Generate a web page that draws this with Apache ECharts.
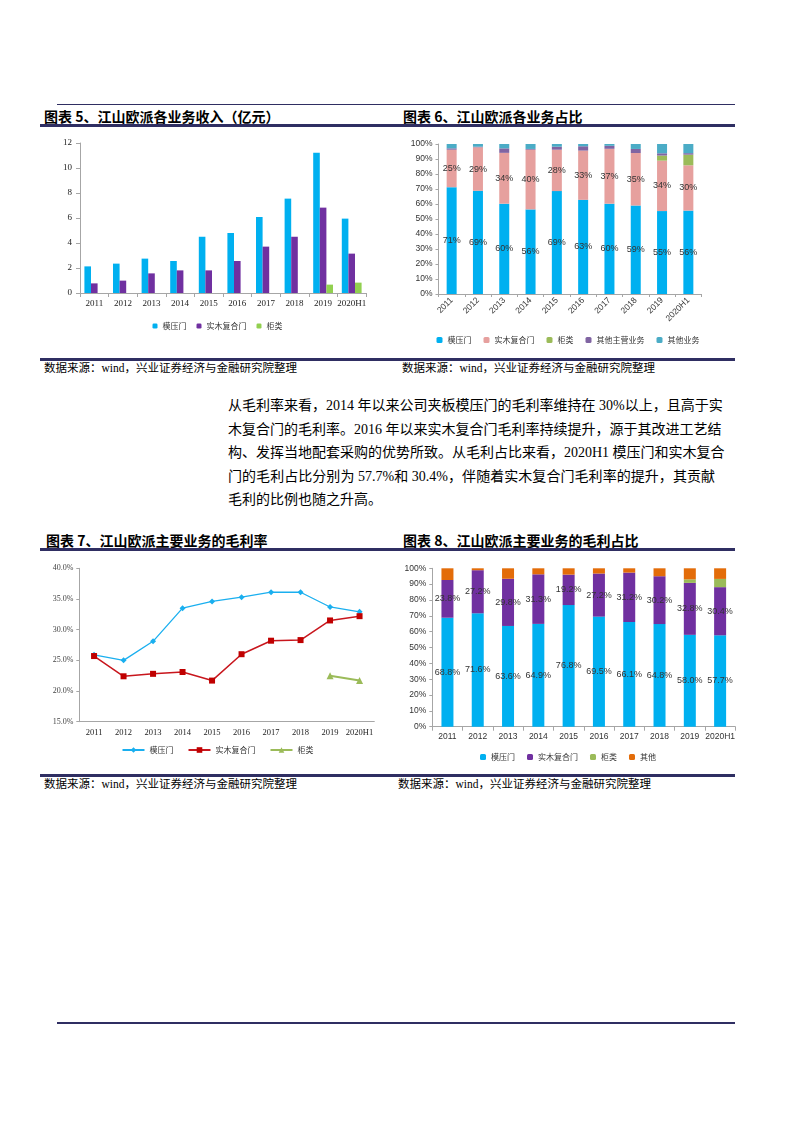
<!DOCTYPE html>
<html lang="zh-CN">
<head>
<meta charset="UTF-8"/>
<title>江山欧派业务分析</title>
<script src="https://cdn.jsdelivr.net/npm/echarts@6/dist/echarts.min.js"></script>
<style>
    body { margin: 0; width: 793px; height: 1122px; position: relative; background: #fff;
           font-family: "Noto Sans CJK SC", sans-serif; color: #000; }
    .abs { position: absolute; }
    .rule-thin { height: 1px; background: #2F2E62; }
    .rule-thick { height: 3px; background: #2F2E62; }
    .ttl { font-size: 14px; font-weight: bold; line-height: 16px; }
    .src { font-size: 11.5px; line-height: 13px; font-family: "Liberation Serif", "Noto Sans CJK SC", serif; }
    .para div { font-size: 14px; line-height: 23.5px; height: 23.5px; width: 487px;
                text-align: justify; text-align-last: justify; white-space: nowrap;
                font-family: "Liberation Serif", "Noto Sans CJK SC", serif; }
    .para div.last { text-align-last: left; }
    .chart { position: absolute; }
</style>
</head>
<body>

<!-- 页眉/页脚线 -->
<div class="abs rule-thin" style="left:57px;top:104px;width:678px;"></div>
<div class="abs rule-thick" style="left:57px;top:1022px;width:678px;height:2px;"></div>

<!-- 第一行图表标题 -->
<div class="abs ttl" style="left:44px;top:108px;">图表 5、江山欧派各业务收入（亿元）</div>
<div class="abs ttl" style="left:403px;top:108px;">图表 6、江山欧派各业务占比</div>
<div class="abs rule-thick" style="left:40px;top:124px;width:695px;"></div>

<div id="chart1" class="chart" style="left:40px;top:130px;width:355px;height:220px;"></div>
<div id="chart2" class="chart" style="left:398px;top:130px;width:340px;height:220px;"></div>

<div class="abs rule-thick" style="left:40px;top:358px;width:695px;"></div>
<div class="abs src" style="left:44px;top:362px;">数据来源：wind，兴业证券经济与金融研究院整理</div>
<div class="abs src" style="left:402px;top:362px;">数据来源：wind，兴业证券经济与金融研究院整理</div>

<!-- 正文 -->
<div class="abs para" style="left:228px;top:394px;">
    <div>从毛利率来看，2014 年以来公司夹板模压门的毛利率维持在 30%以上，且高于实</div>
    <div>木复合门的毛利率。2016 年以来实木复合门毛利率持续提升，源于其改进工艺结</div>
    <div>构、发挥当地配套采购的优势所致。从毛利占比来看，2020H1 模压门和实木复合</div>
    <div>门的毛利占比分别为 57.7%和 30.4%，伴随着实木复合门毛利率的提升，其贡献</div>
    <div class="last">毛利的比例也随之升高。</div>
</div>

<!-- 第二行图表标题 -->
<div class="abs ttl" style="left:46px;top:532px;">图表 7、江山欧派主要业务的毛利率</div>
<div class="abs ttl" style="left:403px;top:532px;">图表 8、江山欧派主要业务的毛利占比</div>
<div class="abs rule-thick" style="left:40px;top:548px;width:695px;"></div>

<div id="chart3" class="chart" style="left:40px;top:555px;width:355px;height:210px;"></div>
<div id="chart4" class="chart" style="left:398px;top:555px;width:340px;height:210px;"></div>

<div class="abs rule-thick" style="left:40px;top:774px;width:695px;"></div>
<div class="abs src" style="left:44px;top:778px;">数据来源：wind，兴业证券经济与金融研究院整理</div>
<div class="abs src" style="left:398px;top:778px;">数据来源：wind，兴业证券经济与金融研究院整理</div>

<script type="text/javascript">
    // 年份
    var years = ['2011', '2012', '2013', '2014', '2015', '2016', '2017', '2018', '2019', '2020H1'];

    // 图表5 各业务收入（亿元）
    var revMoya = [2.13, 2.35, 2.75, 2.56, 4.50, 4.80, 6.08, 7.55, 11.23, 5.95];
    var revShimu = [0.77, 0.99, 1.57, 1.81, 1.81, 2.56, 3.71, 4.50, 6.83, 3.15];
    var revGui = [null, null, null, null, null, null, null, null, 0.67, 0.83];

    // 图表6 各业务占比（%）
    var shareMoya = [71.2, 68.8, 60.2, 56.4, 68.6, 62.8, 60.2, 59.0, 55.3, 55.6];
    var shareShimu = [25.0, 29.0, 33.9, 39.8, 27.6, 32.8, 36.6, 35.0, 33.6, 30.2];
    var shareGui = [0, 0, 0, 0, 0, 0, 0, 0, 3.4, 7.1];
    var shareOtherMain = [0.9, 0.4, 3.0, 0.5, 2.0, 2.9, 2.0, 2.7, 1.5, 1.0];
    var shareOther = [2.9, 1.8, 2.9, 3.3, 1.8, 1.5, 1.2, 3.3, 6.2, 6.1];

    // 图表7 毛利率（%）
    var gmMoya = [25.9, 25.0, 28.1, 33.5, 34.6, 35.3, 36.1, 36.1, 33.7, 32.9];
    var gmShimu = [25.7, 22.4, 22.8, 23.1, 21.7, 26.0, 28.2, 28.3, 31.5, 32.2];
    var gmGui = [null, null, null, null, null, null, null, null, 22.5, 21.7];

    // 图表8 毛利占比（%）
    var gpMoya = [68.8, 71.6, 63.6, 64.9, 76.8, 69.5, 66.1, 64.8, 58.0, 57.7];
    var gpShimu = [23.8, 27.2, 29.8, 31.3, 19.2, 27.2, 31.2, 30.2, 32.8, 30.4];
    var gpGui = [0, 0, 0, 0, 0, 0, 0, 0, 2.2, 5.2];
    var gpOther = [7.4, 1.2, 6.6, 3.8, 4.0, 3.3, 2.7, 5.0, 7.0, 6.7];

    var serif = '"Liberation Serif", "Noto Sans CJK SC", serif';
    var sans = '"Liberation Sans", "Noto Sans CJK SC", sans-serif';
    var cjk = '"Noto Sans CJK SC", sans-serif';
    var axisGray = '#A6A6A6';

    var BLUE = '#00B0F0', PURPLE = '#7030A0', GREEN = '#92D050';

    // ---------- 图表5 ----------
    var chart1 = echarts.init(document.getElementById('chart1'));
    chart1.setOption({
        animation: false,
        grid: {left: 40, top: 13, width: 286, height: 150},
        legend: {
            top: 187, left: 'center', itemWidth: 5, itemHeight: 5, itemGap: 10,
            textStyle: {fontFamily: cjk, fontSize: 8, color: '#333'},
            data: ['模压门', '实木复合门', '柜类']
        },
        xAxis: {
            type: 'category', data: years,
            axisLine: {lineStyle: {color: axisGray}},
            axisTick: {show: true, length: 4, lineStyle: {color: axisGray}},
            axisLabel: {fontFamily: serif, fontSize: 9, color: '#222', margin: 6, interval: 0}
        },
        yAxis: {
            type: 'value', min: 0, max: 12, interval: 2,
            splitLine: {show: false},
            axisLine: {show: true, lineStyle: {color: axisGray}},
            axisTick: {show: true, length: 4, lineStyle: {color: axisGray}},
            axisLabel: {fontFamily: serif, fontSize: 9, color: '#222', margin: 8}
        },
        series: [
            {name: '模压门', type: 'bar', data: revMoya, barWidth: 6.6, barGap: '0%',
                itemStyle: {color: BLUE}},
            {name: '实木复合门', type: 'bar', data: revShimu, barWidth: 6.6, barGap: '0%',
                itemStyle: {color: PURPLE}},
            {name: '柜类', type: 'bar', data: revGui, barWidth: 6.6, barGap: '0%',
                itemStyle: {color: GREEN}}
        ]
    });

    // ---------- 图表6 ----------
    function pctLabel(p) { return Math.round(p.value) + '%'; }
    var stackLabel = {show: true, position: 'inside', formatter: pctLabel,
        fontFamily: sans, fontSize: 9, color: '#333'};

    var chart2 = echarts.init(document.getElementById('chart2'));
    chart2.setOption({
        animation: false,
        grid: {left: 40.5, top: 14, width: 263, height: 150},
        legend: {
            top: 201, left: 'center', itemWidth: 6, itemHeight: 6, itemGap: 12,
            textStyle: {fontFamily: cjk, fontSize: 8, color: '#333'},
            data: ['模压门', '实木复合门', '柜类', '其他主营业务', '其他业务']
        },
        xAxis: {
            type: 'category', data: years,
            axisLine: {lineStyle: {color: axisGray}},
            axisTick: {show: true, length: 3, lineStyle: {color: axisGray}},
            axisLabel: {fontFamily: sans, fontSize: 8.5, color: '#333', rotate: 45, margin: 5, interval: 0}
        },
        yAxis: {
            type: 'value', min: 0, max: 100, interval: 10,
            splitLine: {show: false},
            axisLine: {show: true, lineStyle: {color: axisGray}},
            axisTick: {show: true, length: 3, lineStyle: {color: axisGray}},
            axisLabel: {fontFamily: sans, fontSize: 8.5, color: '#333', margin: 6, formatter: '{value}%'}
        },
        series: [
            {name: '模压门', type: 'bar', stack: 's', data: shareMoya, barWidth: 10,
                itemStyle: {color: '#00B0F0'}, label: stackLabel},
            {name: '实木复合门', type: 'bar', stack: 's', data: shareShimu,
                itemStyle: {color: '#E6A09E'}, label: stackLabel},
            {name: '柜类', type: 'bar', stack: 's', data: shareGui, itemStyle: {color: '#9BBB59'}},
            {name: '其他主营业务', type: 'bar', stack: 's', data: shareOtherMain, itemStyle: {color: '#8064A2'}},
            {name: '其他业务', type: 'bar', stack: 's', data: shareOther, itemStyle: {color: '#4BACC6'}}
        ]
    });

    // ---------- 图表7 ----------
    var chart3 = echarts.init(document.getElementById('chart3'));
    chart3.setOption({
        animation: false,
        grid: {left: 39.3, top: 13.3, width: 295, height: 153.4},
        legend: {
            top: 186, left: 'center', itemWidth: 22, itemHeight: 7, itemGap: 14,
            textStyle: {fontFamily: cjk, fontSize: 8, color: '#333'},
            data: ['模压门', '实木复合门', '柜类']
        },
        xAxis: {
            type: 'category', data: years,
            axisLine: {lineStyle: {color: axisGray}},
            axisTick: {show: false},
            axisLabel: {fontFamily: serif, fontSize: 8.5, color: '#222', margin: 7, interval: 0}
        },
        yAxis: {
            type: 'value', min: 15, max: 40, interval: 5,
            splitLine: {show: false},
            axisLine: {show: true, lineStyle: {color: axisGray}},
            axisTick: {show: true, length: 3, lineStyle: {color: axisGray}},
            axisLabel: {fontFamily: serif, fontSize: 8, color: '#444', margin: 6,
                formatter: function (v) { return v.toFixed(1) + '%'; }}
        },
        series: [
            {name: '模压门', type: 'line', data: gmMoya, symbol: 'diamond', symbolSize: 6,
                lineStyle: {color: '#1AAFEF', width: 1.3}, itemStyle: {color: '#1AAFEF'}},
            {name: '实木复合门', type: 'line', data: gmShimu, symbol: 'rect', symbolSize: 6,
                lineStyle: {color: '#C8161D', width: 1.5}, itemStyle: {color: '#C00000'}},
            {name: '柜类', type: 'line', data: gmGui, symbol: 'triangle', symbolSize: 7,
                lineStyle: {color: '#9BBB59', width: 2}, itemStyle: {color: '#9BBB59'}}
        ]
    });

    // ---------- 图表8 ----------
    function pct1Label(p) { return p.value.toFixed(1) + '%'; }
    var stackLabel1 = {show: true, position: 'inside', formatter: pct1Label,
        fontFamily: sans, fontSize: 9, color: '#333'};

    var chart4 = echarts.init(document.getElementById('chart4'));
    chart4.setOption({
        animation: false,
        grid: {left: 34.3, top: 13.3, width: 303, height: 158.4},
        legend: {
            top: 193, left: 'center', itemWidth: 6, itemHeight: 6, itemGap: 12,
            textStyle: {fontFamily: cjk, fontSize: 8, color: '#333'},
            data: ['模压门', '实木复合门', '柜类', '其他']
        },
        xAxis: {
            type: 'category', data: years,
            axisLine: {lineStyle: {color: axisGray}},
            axisTick: {show: true, length: 4, lineStyle: {color: axisGray}},
            axisLabel: {fontFamily: sans, fontSize: 8.5, color: '#333', margin: 6, interval: 0}
        },
        yAxis: {
            type: 'value', min: 0, max: 100, interval: 10,
            splitLine: {show: false},
            axisLine: {show: true, lineStyle: {color: axisGray}},
            axisTick: {show: true, length: 3, lineStyle: {color: axisGray}},
            axisLabel: {fontFamily: sans, fontSize: 8.5, color: '#333', margin: 6, formatter: '{value}%'}
        },
        series: [
            {name: '模压门', type: 'bar', stack: 's', data: gpMoya, barWidth: 12,
                itemStyle: {color: '#00B0F0'}, label: stackLabel1},
            {name: '实木复合门', type: 'bar', stack: 's', data: gpShimu,
                itemStyle: {color: '#7030A0'}, label: stackLabel1},
            {name: '柜类', type: 'bar', stack: 's', data: gpGui, itemStyle: {color: '#9BBB59'}},
            {name: '其他', type: 'bar', stack: 's', data: gpOther, itemStyle: {color: '#E36C09'}}
        ]
    });
</script>
</body>
</html>
